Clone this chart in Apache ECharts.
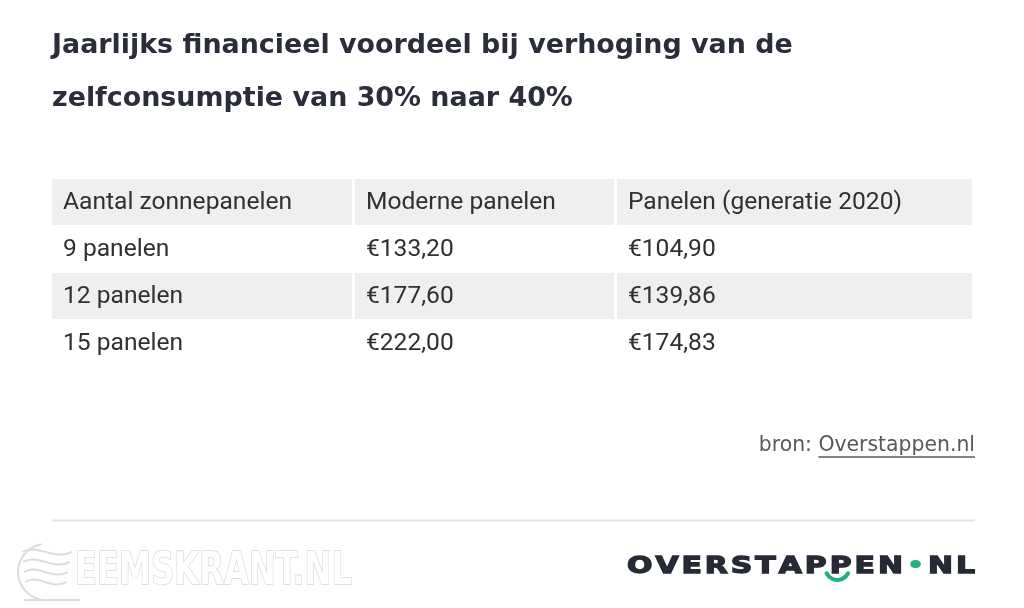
<!DOCTYPE html>
<html><head><meta charset="utf-8">
<script src="https://cdn.jsdelivr.net/npm/echarts@6/dist/echarts.min.js"></script>
<style>html,body{margin:0;padding:0;background:#fff}#c{width:1024px;height:608px}</style>
</head><body><div id="c"></div>
<script>
// ---- data ----
const titleLines = ['Jaarlijks financieel voordeel bij verhoging van de', 'zelfconsumptie van 30% naar 40%'];
const columns = ['Aantal zonnepanelen', 'Moderne panelen', 'Panelen (generatie 2020)'];
const rows = ['9 panelen', '12 panelen', '15 panelen'];
const moderne = [133.20, 177.60, 222.00];
const gen2020 = [104.90, 139.86, 174.83];
const sourceLabel = 'bron: ';
const sourceLink = 'Overstappen.nl';
const logoParts = ['OVERSTAPPEN', 'NL'];
const watermark = 'EEMSKRANT.NL';

// ---- helpers ----
const fmt = v => '\u20AC' + v.toFixed(2).replace('.', ',');
const rowCats = ['kop'].concat(rows);
const cells = [];
columns.forEach((c, i) => cells.push([i, 0, c]));
rows.forEach((r, j) => {
  cells.push([0, j + 1, r]);
  cells.push([1, j + 1, fmt(moderne[j])]);
  cells.push([2, j + 1, fmt(gen2020[j])]);
});
const colEdges = [0, 301.5 / 920, 563.5 / 920, 1];
const cv = document.createElement('canvas').getContext('2d');
function measure(text, font) { cv.font = font; return cv.measureText(text).width; }

// title font fitted to the reference width of the first line
const titleFamily = '"DejaVu Sans", sans-serif';
const titleSize = Math.round(25 * 741 / measure(titleLines[0], 'bold 25px ' + titleFamily) * 10) / 10;

const cellFont = '23px Roboto, "Noto Sans", sans-serif';
const cellScale = 229 / measure(columns[0], cellFont);

function renderItem(params, api) {
  const d = cells[params.dataIndex];
  const col = d[0], row = d[1];
  const x0 = api.coord([colEdges[col], row])[0];
  const x1 = api.coord([colEdges[col + 1], row])[0];
  const cy = api.coord([0, row])[1];
  const h = api.size([0, 1])[1];
  const gl = col === 0 ? 0 : 1.5, gr = col === 2 ? 0 : 1.5;
  const shaded = row % 2 === 0;
  return {
    type: 'group',
    children: [
      { type: 'rect', shape: { x: x0 + gl, y: cy - h / 2 + 0.5, width: x1 - x0 - gl - gr, height: h - 1 },
        style: { fill: shaded ? '#efefef' : '#ffffff' } },
      { type: 'text', x: x0 + gl + 11, y: cy + 1, scaleX: cellScale,
        style: { text: d[2], fill: '#303030', font: cellFont, align: 'left', verticalAlign: 'middle' } }
    ]
  };
}

// ---- footer graphics ----
const graphics = [];
const srcFamily = '"DejaVu Sans", sans-serif';
const srcSize = Math.round(19 * 216 / measure(sourceLabel + sourceLink, '19px ' + srcFamily) * 10) / 10;
const srcFont = srcSize + 'px ' + srcFamily;
const srcRight = 975;
const linkW = measure(sourceLink, srcFont);
const labelW = measure(sourceLabel, srcFont);
graphics.push({ type: 'text', x: srcRight - linkW - labelW, y: 446,
  style: { text: sourceLabel, font: srcFont, fill: '#55595e', verticalAlign: 'middle' } });
graphics.push({ type: 'text', x: srcRight - linkW, y: 446,
  style: { text: sourceLink, font: srcFont, fill: '#55595e', verticalAlign: 'middle' } });
graphics.push({ type: 'line', shape: { x1: srcRight - linkW, y1: 457, x2: srcRight, y2: 457 },
  style: { stroke: '#55595e', lineWidth: 1.3 } });
// divider
graphics.push({ type: 'line', shape: { x1: 52, y1: 520.5, x2: 975, y2: 520.5 },
  style: { stroke: '#e2e2e2', lineWidth: 2 } });

// logo
const logoFont = 'bold 23px "DejaVu Sans", sans-serif';
const logoScale = 1.3;
const logoChars = logoParts[0].split('').concat(['\u2022']).concat(logoParts[1].split(''));
const widths = logoChars.map(c => measure(c, logoFont) * logoScale);
const logoLeft = 627, logoRight = 975;
const natural = widths.reduce((a, b) => a + b, 0);
const spacing = (logoRight - logoLeft - natural) / (logoChars.length - 1);
let lx = logoLeft;
const charX = [];
logoChars.forEach((c, i) => {
  charX.push(lx);
  const isDot = c === '\u2022';
  graphics.push({ type: 'text', x: lx, y: 567, scaleX: logoScale,
    style: { text: c, font: logoFont, fill: isDot ? '#21b07a' : '#262a35',
      stroke: isDot ? null : '#262a35', lineWidth: isDot ? 0 : 1.3, verticalAlign: 'middle' } });
  lx += widths[i] + spacing;
});
const p1 = logoParts[0].indexOf('PP');
const smileCx = charX[p1 + 1] + widths[p1 + 1] * 0.35;
graphics.push({ type: 'arc', shape: { cx: smileCx, cy: 568, r: 12, startAngle: 0.45, endAngle: Math.PI - 0.45 },
  style: { stroke: '#21b07a', lineWidth: 4, fill: null, lineCap: 'round' } });

// watermark
const wmFont = 'bold 44px "Liberation Sans Narrow", "DejaVu Sans Condensed", sans-serif';
const wmW = measure(watermark, wmFont);
graphics.push({ type: 'text', x: 75, y: 573, scaleX: 277 / wmW,
  style: { text: watermark, font: wmFont, fill: '#ffffff', stroke: '#d6d6d6', lineWidth: 1.4, verticalAlign: 'middle' } });
// watermark icon (decorative waves)
[552, 562, 572, 582].forEach((yy, k) => {
  graphics.push({ type: 'bezierCurve', shape: { x1: 22 + k, y1: yy, cpx1: 38, cpy1: yy - 9, cpx2: 52, cpy2: yy + 9, x2: 72 - k * 2, y2: yy },
    style: { stroke: '#dcdcdc', lineWidth: 2, fill: null } });
});
graphics.push({ type: 'arc', shape: { cx: 46, cy: 572, r: 28, startAngle: Math.PI * 0.55, endAngle: Math.PI * 1.45 },
  style: { stroke: '#dcdcdc', lineWidth: 2, fill: null } });
graphics.push({ type: 'line', shape: { x1: 24, y1: 600, x2: 80, y2: 600 }, style: { stroke: '#dcdcdc', lineWidth: 2 } });

const chart = echarts.init(document.getElementById('c'));
chart.setOption({
  backgroundColor: '#ffffff',
  animation: false,
  title: {
    text: titleLines.join('\n'),
    left: 52, top: 20, padding: 0,
    textStyle: { fontFamily: titleFamily, fontSize: titleSize, fontWeight: 'bold', color: '#2a2d3a', lineHeight: 53 }
  },
  grid: { left: 52, right: 52, top: 178.5, height: 188 },
  xAxis: { type: 'value', min: 0, max: 1, show: false },
  yAxis: { type: 'category', data: rowCats, inverse: true, show: false },
  series: [{
    type: 'custom',
    renderItem: renderItem,
    data: cells.map(c => [c[0], c[1]]),
    encode: { x: 0, y: 1 },
    silent: true
  }],
  graphic: graphics
});
</script>
</body></html>
